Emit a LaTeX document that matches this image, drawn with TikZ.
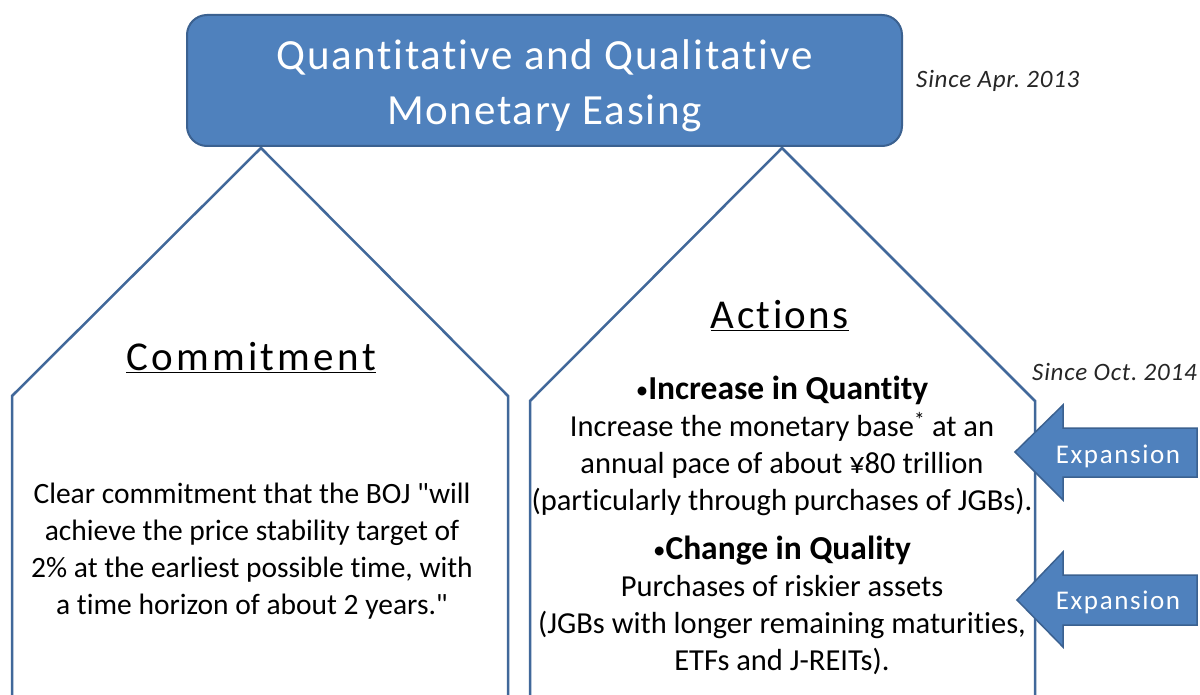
\documentclass[tikz,border=0pt]{standalone}
\usepackage{fontspec}
\setmainfont{Carlito}[Ligatures=NoCommon]
\usetikzlibrary{positioning}
\definecolor{qqeblue}{HTML}{4F81BD}
\definecolor{qqeedge}{HTML}{3B6190}
\definecolor{armedge}{HTML}{41689A}
\frenchspacing

\begin{document}
\begin{tikzpicture}[x=1pt,y=-1pt]
\tikzstyle{mainbox}=[draw=qqeedge, line width=2pt, fill=qqeblue, rounded corners=20pt, inner sep=0pt]
\tikzstyle{titletext}=[text=white, align=center, inner sep=0pt, font=\fontsize{43}{55}\selectfont\addfontfeature{LetterSpace=4}]
\tikzstyle{pillar}=[draw=armedge, line width=2.5pt, line join=miter]
\tikzstyle{expand}=[draw=qqeedge, line width=1.5pt, fill=qqeblue, line join=miter]
\tikzstyle{body}=[align=center, inner sep=0pt, font=\fontsize{30.5}{37}\selectfont]
\tikzstyle{heading}=[inner sep=0pt, anchor=base, font=\fontsize{41}{45}\selectfont\addfontfeature{LetterSpace=8}]
\tikzstyle{since}=[inner sep=0pt, anchor=base west, text=black!85, font=\fontsize{25}{29}\selectfont\itshape\addfontfeature{LetterSpace=3}]
\tikzstyle{arrowtext}=[text=white, inner sep=0pt, font=\fontsize{27}{30}\selectfont\addfontfeature{LetterSpace=6}]
\newcommand{\bhead}[1]{{\fontsize{33.5}{37}\selectfont\raisebox{1pt}{\fontsize{25}{37}\selectfont•}\textbf{#1}}}

\useasboundingbox (0,0) rectangle (1200,695);
\fill[white] (0,0) rectangle (1200,695);

% the two pillars under the roof box
\draw[pillar] (12,700) -- (12,396) -- (261,148) -- (508,396) -- (508,700);
\draw[pillar] (530,700) -- (530,401) -- (782,148) -- (1035,401) -- (1035,700);

\node (qqe) [mainbox, minimum width=715pt, minimum height=131pt] at (544.5,80.5) {};
\node (qqeTitle) [titletext] at (544.5,86) {Quantitative and Qualitative\\Monetary Easing};
\node (apr) [since] at (916,88) {Since Apr. 2013};

% left pillar
\node (commit) [heading] at (251,370) {\underline{Commitment}};
\node (commitText) [body, font=\fontsize{29.5}{37}\selectfont] at (252,551) {Clear commitment that the BOJ \textquotedbl will\\achieve the price stability target of\\2\% at the earliest possible time, with\\a time horizon of about 2 years.\textquotedbl};

% right pillar
\node (actions) [heading, font=\fontsize{41}{45}\selectfont\addfontfeature{LetterSpace=6}] at (780,328) {\underline{Actions}};
\node (quantity) [body] at (782,446) {\bhead{Increase in Quantity}\\Increase the monetary base\textsuperscript{*} at an\\annual pace of about ¥80 trillion\\(particularly through purchases of JGBs).};
\node (quality) [body] at (782,605) {\bhead{Change in Quality}\\Purchases of riskier assets\\(JGBs with longer remaining maturities,\\ETFs and J-REITs).};
\node (oct) [since] at (1032,380) {Since Oct. 2014};

% expansion arrows
\draw[expand] (1015,452) -- (1063,405) -- (1063,428) -- (1197,428) -- (1197,477) -- (1063,477) -- (1063,500) -- cycle;
\node (exp1) [arrowtext] at (1118,456) {Expansion};
\draw[expand] (1017,600) -- (1063,552) -- (1063,575) -- (1197,575) -- (1197,625) -- (1063,625) -- (1063,647) -- cycle;
\node (exp2) [arrowtext] at (1118,602) {Expansion};

\end{tikzpicture}
\end{document}
